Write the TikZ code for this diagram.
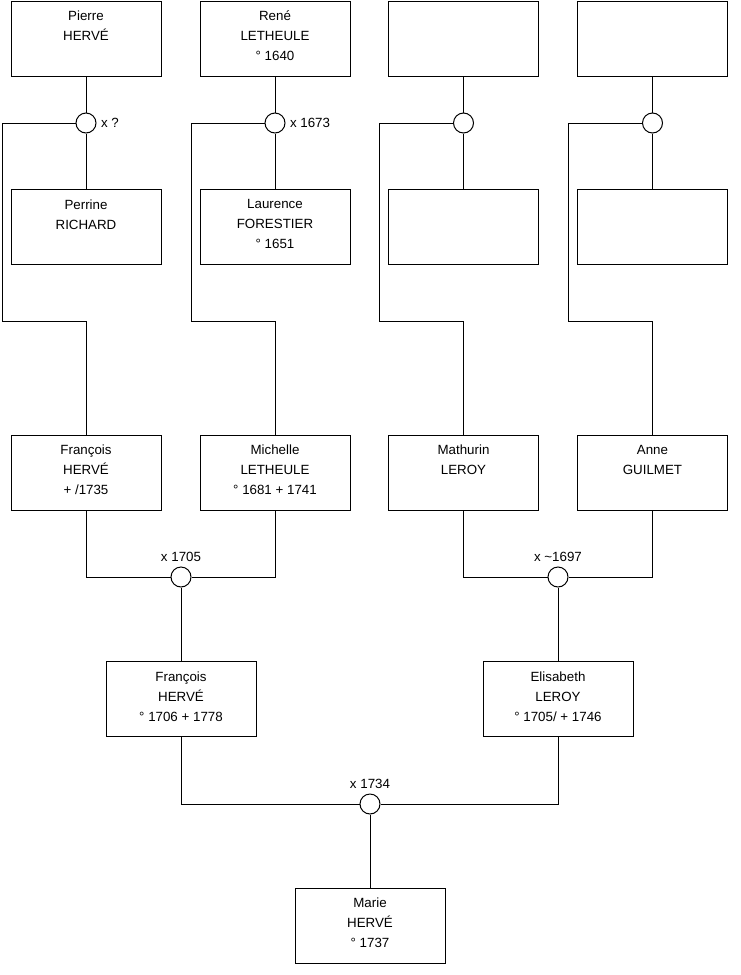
\documentclass[tikz,border=0pt]{standalone}
\usepackage{fontspec}
\setmainfont{Liberation Sans}
\usetikzlibrary{positioning}

\begin{document}
\begin{tikzpicture}[x=0.75pt,y=-0.75pt,line width=0.75pt,
  person/.style={draw,rectangle,minimum width=112.5pt,minimum height=56.25pt,inner sep=0pt},
  names/.style={anchor=north,align=center,inner sep=0pt,yshift=-7.5pt,font=\fontsize{10}{15}\selectfont},
  union/.style={draw,circle,fill=white,minimum size=15pt,inner sep=0pt},
  year/.style={inner sep=0pt,font=\fontsize{10}{12}\selectfont}]
  \useasboundingbox (0,0) rectangle (740,975);
  % great-grandparents
  \node[person] (pierre) at (86,38.5) {};
  \node[person] (rene) at (275,38.5) {};
  \node[person] (topC) at (463.5,38.5) {};
  \node[person] (topD) at (652.5,38.5) {};
  \node[names] (pierreT) at (pierre.north) {Pierre\\HERVÉ};
  \node[names] (reneT) at (rene.north) {René\\LETHEULE\\° 1640};
  \node[person] (perrine) at (86,227) {};
  \node[person] (laurence) at (275,227) {};
  \node[person] (midC) at (463.5,227) {};
  \node[person] (midD) at (652.5,227) {};
  \node[names] (perrineT) at (perrine.north) {Perrine\\RICHARD};
  \node[names] (laurenceT) at (laurence.north) {Laurence\\FORESTIER\\° 1651};
  \node[union] (u1) at (86,123) {};
  \node[union] (u2) at (275,123) {};
  \node[union] (u3) at (463.5,123) {};
  \node[union] (u4) at (652.5,123) {};
  \node[year,right=3pt of u1] (u1t) {x ?};
  \node[year,right=3pt of u2] (u2t) {x 1673};
  % grandparents
  \node[person] (francois) at (86,472.5) {};
  \node[person] (michelle) at (275,472.5) {};
  \node[person] (mathurin) at (463.5,472.5) {};
  \node[person] (anne) at (652.5,472.5) {};
  \node[names] (francoisT) at (francois.north) {François\\HERVÉ\\+ /1735};
  \node[names] (michelleT) at (michelle.north) {Michelle\\LETHEULE\\° 1681 + 1741};
  \node[names] (mathurinT) at (mathurin.north) {Mathurin\\LEROY};
  \node[names] (anneT) at (anne.north) {Anne\\GUILMET};
  \coordinate (c1) at (2,321);
  \coordinate (c2) at (191,321);
  \coordinate (c3) at (379,321);
  \coordinate (c4) at (568,321);
  \node[union] (u5) at (181,577) {};
  \node[union] (u6) at (558,577) {};
  \node[year,above=3pt of u5] (u5t) {x 1705};
  \node[year,above=3pt of u6] (u6t) {x \textasciitilde1697};
  % parents
  \node[person] (francoisB) at (181,699) {};
  \node[person] (elisabeth) at (558,699) {};
  \node[names] (francoisBT) at (francoisB.north) {François\\HERVÉ\\° 1706 + 1778};
  \node[names] (elisabethT) at (elisabeth.north) {Elisabeth\\LEROY\\° 1705/ + 1746};
  \node[union] (u7) at (370,804) {};
  \node[year,above=3pt of u7] (u7t) {x 1734};
  \node[person] (marie) at (370,925.5) {};
  \node[names] (marieT) at (marie.north) {Marie\\HERVÉ\\° 1737};
  % links
  \draw (pierre.south) -- (u1.north) (u1.south) -- (perrine.north);
  \draw (rene.south) -- (u2.north) (u2.south) -- (laurence.north);
  \draw (topC.south) -- (u3.north) (u3.south) -- (midC.north);
  \draw (topD.south) -- (u4.north) (u4.south) -- (midD.north);
  \draw (u1.west) -| (c1) -| (francois.north);
  \draw (u2.west) -| (c2) -| (michelle.north);
  \draw (u3.west) -| (c3) -| (mathurin.north);
  \draw (u4.west) -| (c4) -| (anne.north);
  \draw (francois.south) |- (u5.west);
  \draw (michelle.south) |- (u5.east);
  \draw (mathurin.south) |- (u6.west);
  \draw (anne.south) |- (u6.east);
  \draw (u5.south) -- (francoisB.north);
  \draw (u6.south) -- (elisabeth.north);
  \draw (francoisB.south) |- (u7.west);
  \draw (elisabeth.south) |- (u7.east);
  \draw (u7.south) -- (marie.north);
\end{tikzpicture}
\end{document}
